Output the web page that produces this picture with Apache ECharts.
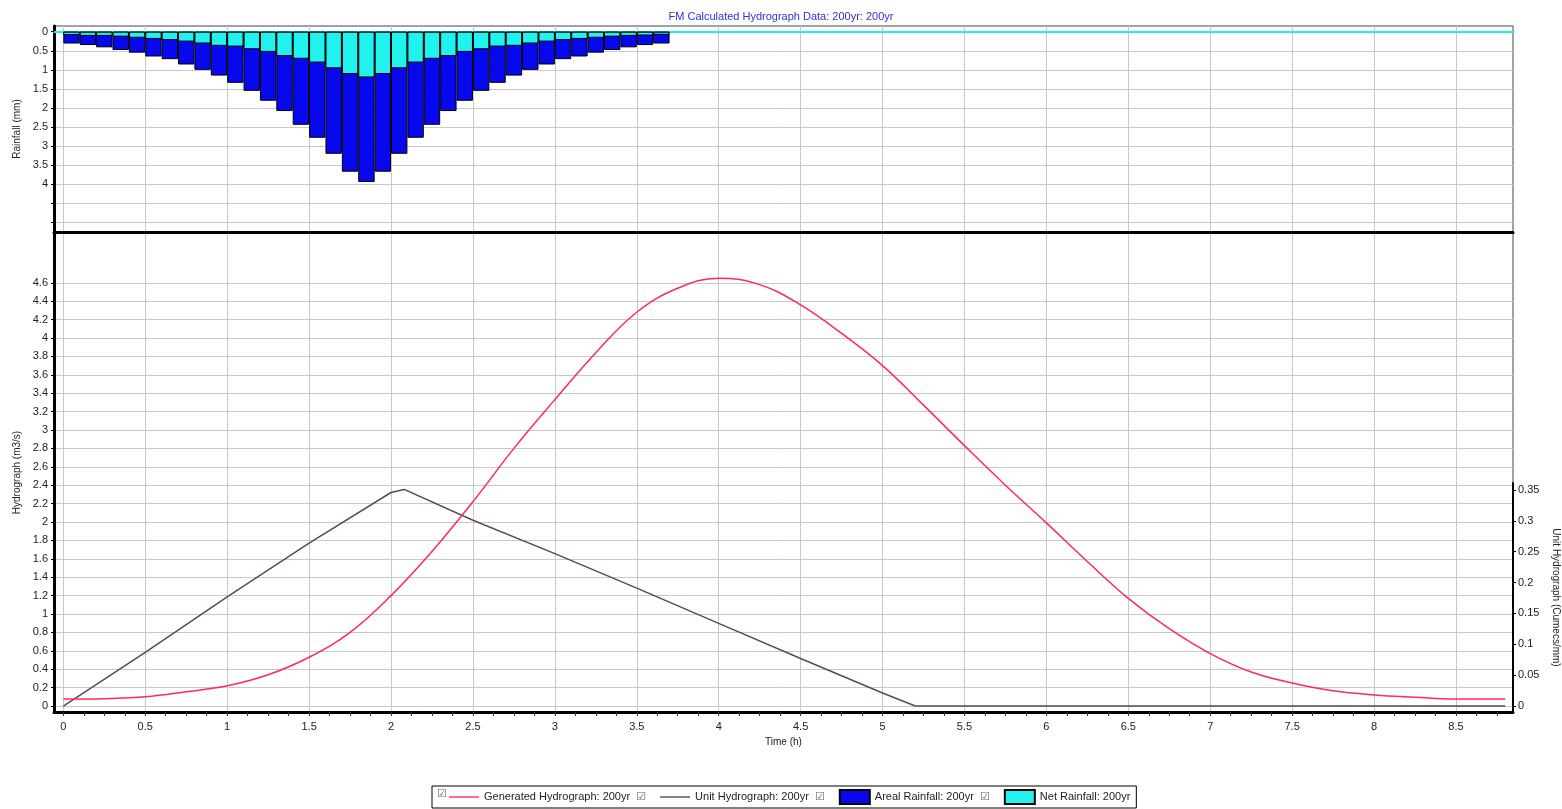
<!DOCTYPE html>
<html>
<head>
<meta charset="utf-8">
<title>FM Calculated Hydrograph</title>
<script src="https://cdn.jsdelivr.net/npm/echarts@6.0.0/dist/echarts.min.js"></script>
<style>
  html, body { margin: 0; padding: 0; background: #fff; }
  #main { width: 1562px; height: 809px; }
</style>
</head>
<body>
<div id="main"></div>
<script>
// rainfall bars, one every 0.1 h (bar centres)
var rainTimes = [0.05, 0.15, 0.25, 0.35, 0.45, 0.55, 0.65, 0.75, 0.85, 0.95,
    1.05, 1.15, 1.25, 1.35, 1.45, 1.55, 1.65, 1.75, 1.85, 1.95,
    2.05, 2.15, 2.25, 2.35, 2.45, 2.55, 2.65, 2.75, 2.85, 2.95,
    3.05, 3.15, 3.25, 3.35, 3.45, 3.55, 3.65];
var arealRain = [0.31, 0.35, 0.41, 0.48, 0.55, 0.65, 0.72, 0.86, 1.0, 1.15,
    1.34, 1.55, 1.81, 2.08, 2.44, 2.78, 3.2, 3.67, 3.94, 3.67,
    3.2, 2.78, 2.44, 2.08, 1.81, 1.55, 1.34, 1.15, 1.0, 0.86,
    0.72, 0.65, 0.55, 0.48, 0.41, 0.35, 0.31];
var netRain = [0.09, 0.11, 0.11, 0.13, 0.16, 0.19, 0.22, 0.26, 0.31, 0.37,
    0.39, 0.46, 0.53, 0.64, 0.71, 0.81, 0.96, 1.11, 1.2, 1.11,
    0.96, 0.81, 0.71, 0.64, 0.53, 0.46, 0.39, 0.37, 0.31, 0.26,
    0.22, 0.19, 0.16, 0.13, 0.11, 0.1, 0.08];

// generated hydrograph (m3/s)
var genTimes = [0, 0.25, 0.5, 0.75, 1.0, 1.25, 1.5, 1.75, 2.0, 2.25, 2.5, 2.75, 3.0, 3.25, 3.5, 3.75,
    4.0, 4.25, 4.5, 4.75, 5.0, 5.25, 5.5, 5.75, 6.0, 6.25, 6.5, 6.75, 7.0, 7.25, 7.5, 7.75,
    8.0, 8.25, 8.5, 8.8];
var genFlow = [0.075, 0.08, 0.1, 0.155, 0.22, 0.34, 0.53, 0.8, 1.2, 1.68, 2.22, 2.8, 3.33, 3.84, 4.28, 4.54,
    4.65, 4.58, 4.36, 4.05, 3.7, 3.27, 2.83, 2.4, 1.99, 1.57, 1.17, 0.84, 0.57, 0.37, 0.25, 0.165,
    0.12, 0.095, 0.076, 0.076];

// unit hydrograph (cumecs/mm)
var unitTimes = [0, 0.5, 1.0, 1.5, 2.0, 2.08, 2.5, 3.0, 3.5, 4.0, 4.5, 5.0, 5.2, 8.8];
var unitFlow = [0, 0.087, 0.177, 0.264, 0.346, 0.351, 0.301, 0.247, 0.191, 0.134, 0.077, 0.021, 0, 0];

// tick labels
var timeTicks = [0, 0.5, 1, 1.5, 2, 2.5, 3, 3.5, 4, 4.5, 5, 5.5, 6, 6.5, 7, 7.5, 8, 8.5];
var timeMinorTicks = [0, 0.125, 0.25, 0.375, 0.5, 0.625, 0.75, 0.875, 1, 1.125, 1.25, 1.375, 1.5, 1.625, 1.75, 1.875,
    2, 2.125, 2.25, 2.375, 2.5, 2.625, 2.75, 2.875, 3, 3.125, 3.25, 3.375, 3.5, 3.625, 3.75, 3.875,
    4, 4.125, 4.25, 4.375, 4.5, 4.625, 4.75, 4.875, 5, 5.125, 5.25, 5.375, 5.5, 5.625, 5.75, 5.875,
    6, 6.125, 6.25, 6.375, 6.5, 6.625, 6.75, 6.875, 7, 7.125, 7.25, 7.375, 7.5, 7.625, 7.75, 7.875,
    8, 8.125, 8.25, 8.375, 8.5, 8.625, 8.75];
var rainLabels = [0, 0.5, 1, 1.5, 2, 2.5, 3, 3.5, 4];
var rainGrid = [0, 0.5, 1, 1.5, 2, 2.5, 3, 3.5, 4, 4.5, 5];
var flowTicks = [0, 0.2, 0.4, 0.6, 0.8, 1, 1.2, 1.4, 1.6, 1.8, 2, 2.2, 2.4, 2.6, 2.8, 3,
    3.2, 3.4, 3.6, 3.8, 4, 4.2, 4.4, 4.6];
var unitTicks = [0, 0.05, 0.1, 0.15, 0.2, 0.25, 0.3, 0.35];

var FONT = 'Liberation Sans';
var tMin = -0.057, tMax = 8.848;
// thin horizontal line used as legend icon for the two line series
var LINE_ICON = 'path://M0,0L0,0M0,6.3L30,6.3L30,7.7L0,7.7ZM30,14L30,14';

var myChart = echarts.init(document.getElementById('main'));

var labelStyle = { fontFamily: FONT, fontSize: 11, color: '#222' };
var nameStyle = { fontFamily: FONT, fontSize: 10, color: '#222' };

var option = {
    animation: false,
    backgroundColor: '#fff',
    title: {
        text: 'FM Calculated Hydrograph Data: 200yr: 200yr',
        left: 'center',
        top: 6,
        textStyle: { fontFamily: FONT, fontSize: 11, fontWeight: 'normal', color: '#2f2fe0' }
    },
    legend: {
        left: 432,
        top: 786,
        padding: [3, 6, 3, 17],
        itemGap: 14,
        itemWidth: 30,
        itemHeight: 14,
        borderColor: '#000',
        borderWidth: 1,
        borderRadius: 0,
        data: [
            { name: 'Generated Hydrograph: 200yr', icon: LINE_ICON },
            { name: 'Unit Hydrograph: 200yr', icon: LINE_ICON },
            { name: 'Areal Rainfall: 200yr', icon: 'rect' },
            { name: 'Net Rainfall: 200yr', icon: 'rect' }
        ],
        formatter: function (name) {
            // checkbox of the next entry sits after the text
            if (name === 'Net Rainfall: 200yr') return name;
            return name + '  {cb|☑}';
        },
        textStyle: {
            fontFamily: FONT, fontSize: 11, color: '#222',
            rich: { cb: { fontFamily: 'DejaVu Sans', fontSize: 11, color: '#666' } }
        }
    },
    graphic: [
        { type: 'text', left: 437, top: 789, style: { text: '☑', font: '11px DejaVu Sans', fill: '#666' } }
    ],
    grid: [
        { left: 54, right: 49, top: 26, height: 206, show: true, borderColor: '#444', borderWidth: 1, outerBoundsMode: 'none' },
        { left: 54, right: 49, top: 233, bottom: 97, show: true, borderColor: '#444', borderWidth: 1, outerBoundsMode: 'none' },
        { left: 54, right: 49, top: 483, bottom: 97, outerBoundsMode: 'none' }
    ],
    xAxis: [
        {   // zero line of the rainfall panel
            type: 'value', gridIndex: 0, min: tMin, max: tMax, position: 'top',
            axisLine: { onZero: true, lineStyle: { color: '#22eeee', width: 2 } },
            axisTick: { show: false, customValues: timeTicks },
            axisLabel: { show: false },
            splitLine: { show: true, lineStyle: { color: '#c8c8c8' } }
        },
        {   // separator between panels
            type: 'value', gridIndex: 0, min: tMin, max: tMax, position: 'bottom',
            axisLine: { onZero: false, lineStyle: { color: '#000', width: 3 } },
            axisTick: { show: false }, axisLabel: { show: false }, splitLine: { show: false }
        },
        {
            type: 'value', gridIndex: 1, min: tMin, max: tMax, position: 'bottom',
            name: 'Time (h)', nameLocation: 'middle', nameGap: 24, nameTextStyle: nameStyle,
            axisLine: { onZero: false, lineStyle: { color: '#000', width: 3 } },
            axisTick: { show: false, customValues: timeTicks },
            axisLabel: Object.assign({ customValues: timeTicks, margin: 9 }, labelStyle),
            splitLine: { show: true, lineStyle: { color: '#c8c8c8' } }
        },
        {   // minor ticks
            type: 'value', gridIndex: 1, min: tMin, max: tMax, position: 'bottom',
            axisLine: { show: false, onZero: false },
            axisTick: { show: true, customValues: timeMinorTicks, length: 4, lineStyle: { color: '#333' } },
            axisLabel: { show: false }, splitLine: { show: false }
        },
        {
            type: 'value', gridIndex: 2, min: tMin, max: tMax, show: false
        }
    ],
    yAxis: [
        {
            type: 'value', gridIndex: 0, inverse: true, min: -0.149, max: 5.25,
            name: 'Rainfall (mm)', nameLocation: 'middle', nameGap: 31, nameTextStyle: nameStyle,
            axisLine: { show: true, onZero: false, lineStyle: { color: '#000', width: 3 } },
            axisTick: { show: true, customValues: rainGrid, length: 3, lineStyle: { color: '#000' } },
            axisLabel: Object.assign({ customValues: rainLabels, margin: 6 }, labelStyle),
            splitLine: { show: true, lineStyle: { color: '#c8c8c8' } }
        },
        {
            type: 'value', gridIndex: 1, min: -0.0652, max: 5.141,
            name: 'Hydrograph (m3/s)', nameLocation: 'middle', nameGap: 31, nameTextStyle: nameStyle,
            axisLine: { show: true, onZero: false, lineStyle: { color: '#000', width: 3 } },
            axisTick: { show: true, customValues: flowTicks, length: 3, lineStyle: { color: '#000' } },
            axisLabel: Object.assign({ customValues: flowTicks, margin: 6 }, labelStyle),
            splitLine: { show: true, lineStyle: { color: '#c8c8c8' } }
        },
        {
            type: 'value', gridIndex: 2, position: 'right', min: -0.0097, max: 0.3614,
            name: 'Unit Hydrograph (Cumecs/mm)', nameLocation: 'middle', nameGap: 29, nameRotate: -90,
            nameTextStyle: nameStyle,
            axisLine: { show: true, onZero: false, lineStyle: { color: '#000', width: 2 } },
            axisTick: { show: true, customValues: unitTicks, length: 3, lineStyle: { color: '#000' } },
            axisLabel: Object.assign({ customValues: unitTicks, margin: 5 }, labelStyle),
            splitLine: { show: false }
        }
    ],
    series: [
        {
            name: 'Areal Rainfall: 200yr',
            type: 'bar',
            xAxisIndex: 0, yAxisIndex: 0,
            barWidth: 16.4,
            barGap: '-100%',
            itemStyle: { color: '#0808ee', borderColor: '#000', borderWidth: 1 },
            data: rainTimes.map(function (t, i) { return [t, arealRain[i]]; })
        },
        {
            name: 'Net Rainfall: 200yr',
            type: 'bar',
            xAxisIndex: 0, yAxisIndex: 0,
            barWidth: 16.4,
            barGap: '-100%',
            itemStyle: { color: '#22f2ee', borderColor: '#000', borderWidth: 1 },
            data: rainTimes.map(function (t, i) { return [t, netRain[i]]; })
        },
        {
            name: 'Unit Hydrograph: 200yr',
            type: 'line',
            xAxisIndex: 4, yAxisIndex: 2,
            symbol: 'none',
            lineStyle: { color: '#5d4660', width: 1.5 },
            itemStyle: { color: '#5d4660' },
            data: unitTimes.map(function (t, i) { return [t, unitFlow[i]]; })
        },
        {
            name: 'Generated Hydrograph: 200yr',
            type: 'line',
            xAxisIndex: 2, yAxisIndex: 1,
            symbol: 'none',
            smooth: 0.4,
            lineStyle: { color: '#ff2a55', width: 1.5 },
            itemStyle: { color: '#ff2a55' },
            data: genTimes.map(function (t, i) { return [t, genFlow[i]]; })
        }
    ]
};

myChart.setOption(option);
window.addEventListener('resize', myChart.resize);
</script>
</body>
</html>
